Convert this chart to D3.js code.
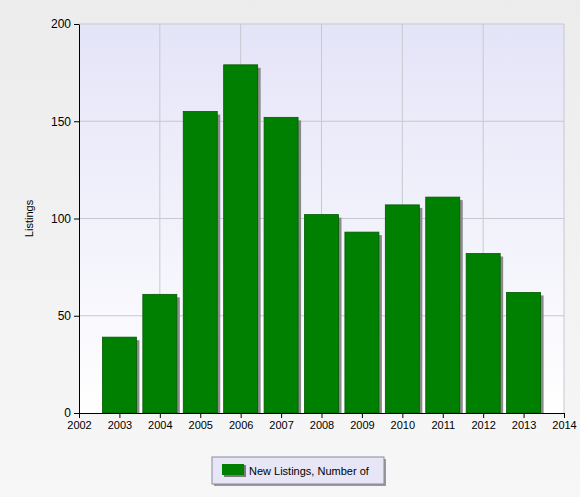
<!DOCTYPE html>
<html><head><meta charset="utf-8">
<script src="https://cdn.jsdelivr.net/npm/d3@7"></script>
<style>body{margin:0;background:#f0f0f0;font-family:"Liberation Sans",Arial,sans-serif;}</style>
</head><body>
<div id="chart"></div>
<script>
const years = [2003, 2004, 2005, 2006, 2007, 2008, 2009, 2010, 2011, 2012, 2013];
const listings = [39, 61, 155, 179, 152, 102, 93, 107, 111, 82, 62];
const yTicks = [0, 50, 100, 150, 200];
const xTicks = d3.range(2002, 2015);

const width = 580, height = 497;
const margin = { top: 24, right: 16, bottom: 84, left: 79 };

const svg = d3.select("#chart").append("svg")
    .attr("width", width).attr("height", height);

const defs = svg.append("defs");
const bg = defs.append("linearGradient").attr("id", "bg").attr("x1", 0).attr("y1", 0).attr("x2", 0).attr("y2", 1);
bg.append("stop").attr("offset", "0%").attr("stop-color", "#ececec");
bg.append("stop").attr("offset", "100%").attr("stop-color", "#f7f7f7");
const plotBg = defs.append("linearGradient").attr("id", "plotbg").attr("x1", 0).attr("y1", 0).attr("x2", 0).attr("y2", 1);
plotBg.append("stop").attr("offset", "0%").attr("stop-color", "#e4e4f8");
plotBg.append("stop").attr("offset", "100%").attr("stop-color", "#ffffff");

svg.append("rect").attr("width", width).attr("height", height).attr("fill", "url(#bg)");

const x = d3.scaleLinear().domain([2002, 2014]).range([margin.left, width - margin.right]);
const y = d3.scaleLinear().domain([0, 200]).range([height - margin.bottom, margin.top]);

svg.append("rect")
    .attr("x", x(2002)).attr("y", y(200))
    .attr("width", x(2014) - x(2002)).attr("height", y(0) - y(200))
    .attr("fill", "url(#plotbg)");

// gridlines
svg.append("g").selectAll("line").data(yTicks.slice(1))
    .join("line")
    .attr("x1", x(2002)).attr("x2", x(2014))
    .attr("y1", d => y(d)).attr("y2", d => y(d))
    .attr("stroke", "#c8c8d0");
svg.append("g").selectAll("line").data(xTicks.filter(d => d % 2 === 0 && d > 2002))
    .join("line")
    .attr("x1", d => x(d)).attr("x2", d => x(d))
    .attr("y1", y(0)).attr("y2", y(200))
    .attr("stroke", "#c8c8d0");

const barW = 34;
// shadows
svg.append("g").selectAll("rect").data(years)
    .join("rect")
    .attr("x", (d, i) => x(d) - barW / 2 + 3)
    .attr("y", (d, i) => y(listings[i]) + 3)
    .attr("width", barW)
    .attr("height", (d, i) => y(0) - y(listings[i]) - 3)
    .attr("fill", "#8a8a8a");
svg.append("g").selectAll("rect").data(years)
    .join("rect")
    .attr("x", d => x(d) - barW / 2)
    .attr("y", (d, i) => y(listings[i]))
    .attr("width", barW)
    .attr("height", (d, i) => y(0) - y(listings[i]))
    .attr("fill", "#008000")
    .attr("stroke", "#005a00").attr("stroke-width", 0.8);

const xAxis = svg.append("g")
    .attr("transform", `translate(0,${y(0)})`)
    .call(d3.axisBottom(x).tickValues(xTicks).tickFormat(d3.format("d")).tickSize(5).tickSizeOuter(0));
const yAxis = svg.append("g")
    .attr("transform", `translate(${x(2002)},0)`)
    .call(d3.axisLeft(y).tickValues(yTicks).tickSize(5).tickSizeOuter(0));
[xAxis, yAxis].forEach(a => {
    a.selectAll("text").attr("font-size", 12).attr("fill", "#000")
        .attr("font-family", "Liberation Sans, Arial, sans-serif");
    a.selectAll("path,line").attr("stroke", "#000");
});
xAxis.selectAll("text").attr("font-size", 11);

svg.append("text")
    .attr("transform", `translate(33,${(y(0) + y(200)) / 2}) rotate(-90)`)
    .attr("text-anchor", "middle")
    .attr("font-size", 11)
    .text("Listings");

// legend
const lg = svg.append("g").attr("transform", "translate(212,457)");
lg.append("rect").attr("x", 2).attr("y", 2).attr("width", 172).attr("height", 27).attr("fill", "#9a9a9a");
lg.append("rect").attr("width", 172).attr("height", 27).attr("fill", "#e6e6f6").attr("stroke", "#8a8a9a");
lg.append("rect").attr("x", 12).attr("y", 8).attr("width", 22).attr("height", 12).attr("fill", "#7a7a7a");
lg.append("rect").attr("x", 10).attr("y", 7).attr("width", 22).attr("height", 11).attr("fill", "#008000");
lg.append("text").attr("x", 37).attr("y", 18).attr("font-size", 11).text("New Listings, Number of");
</script>
</body></html>
